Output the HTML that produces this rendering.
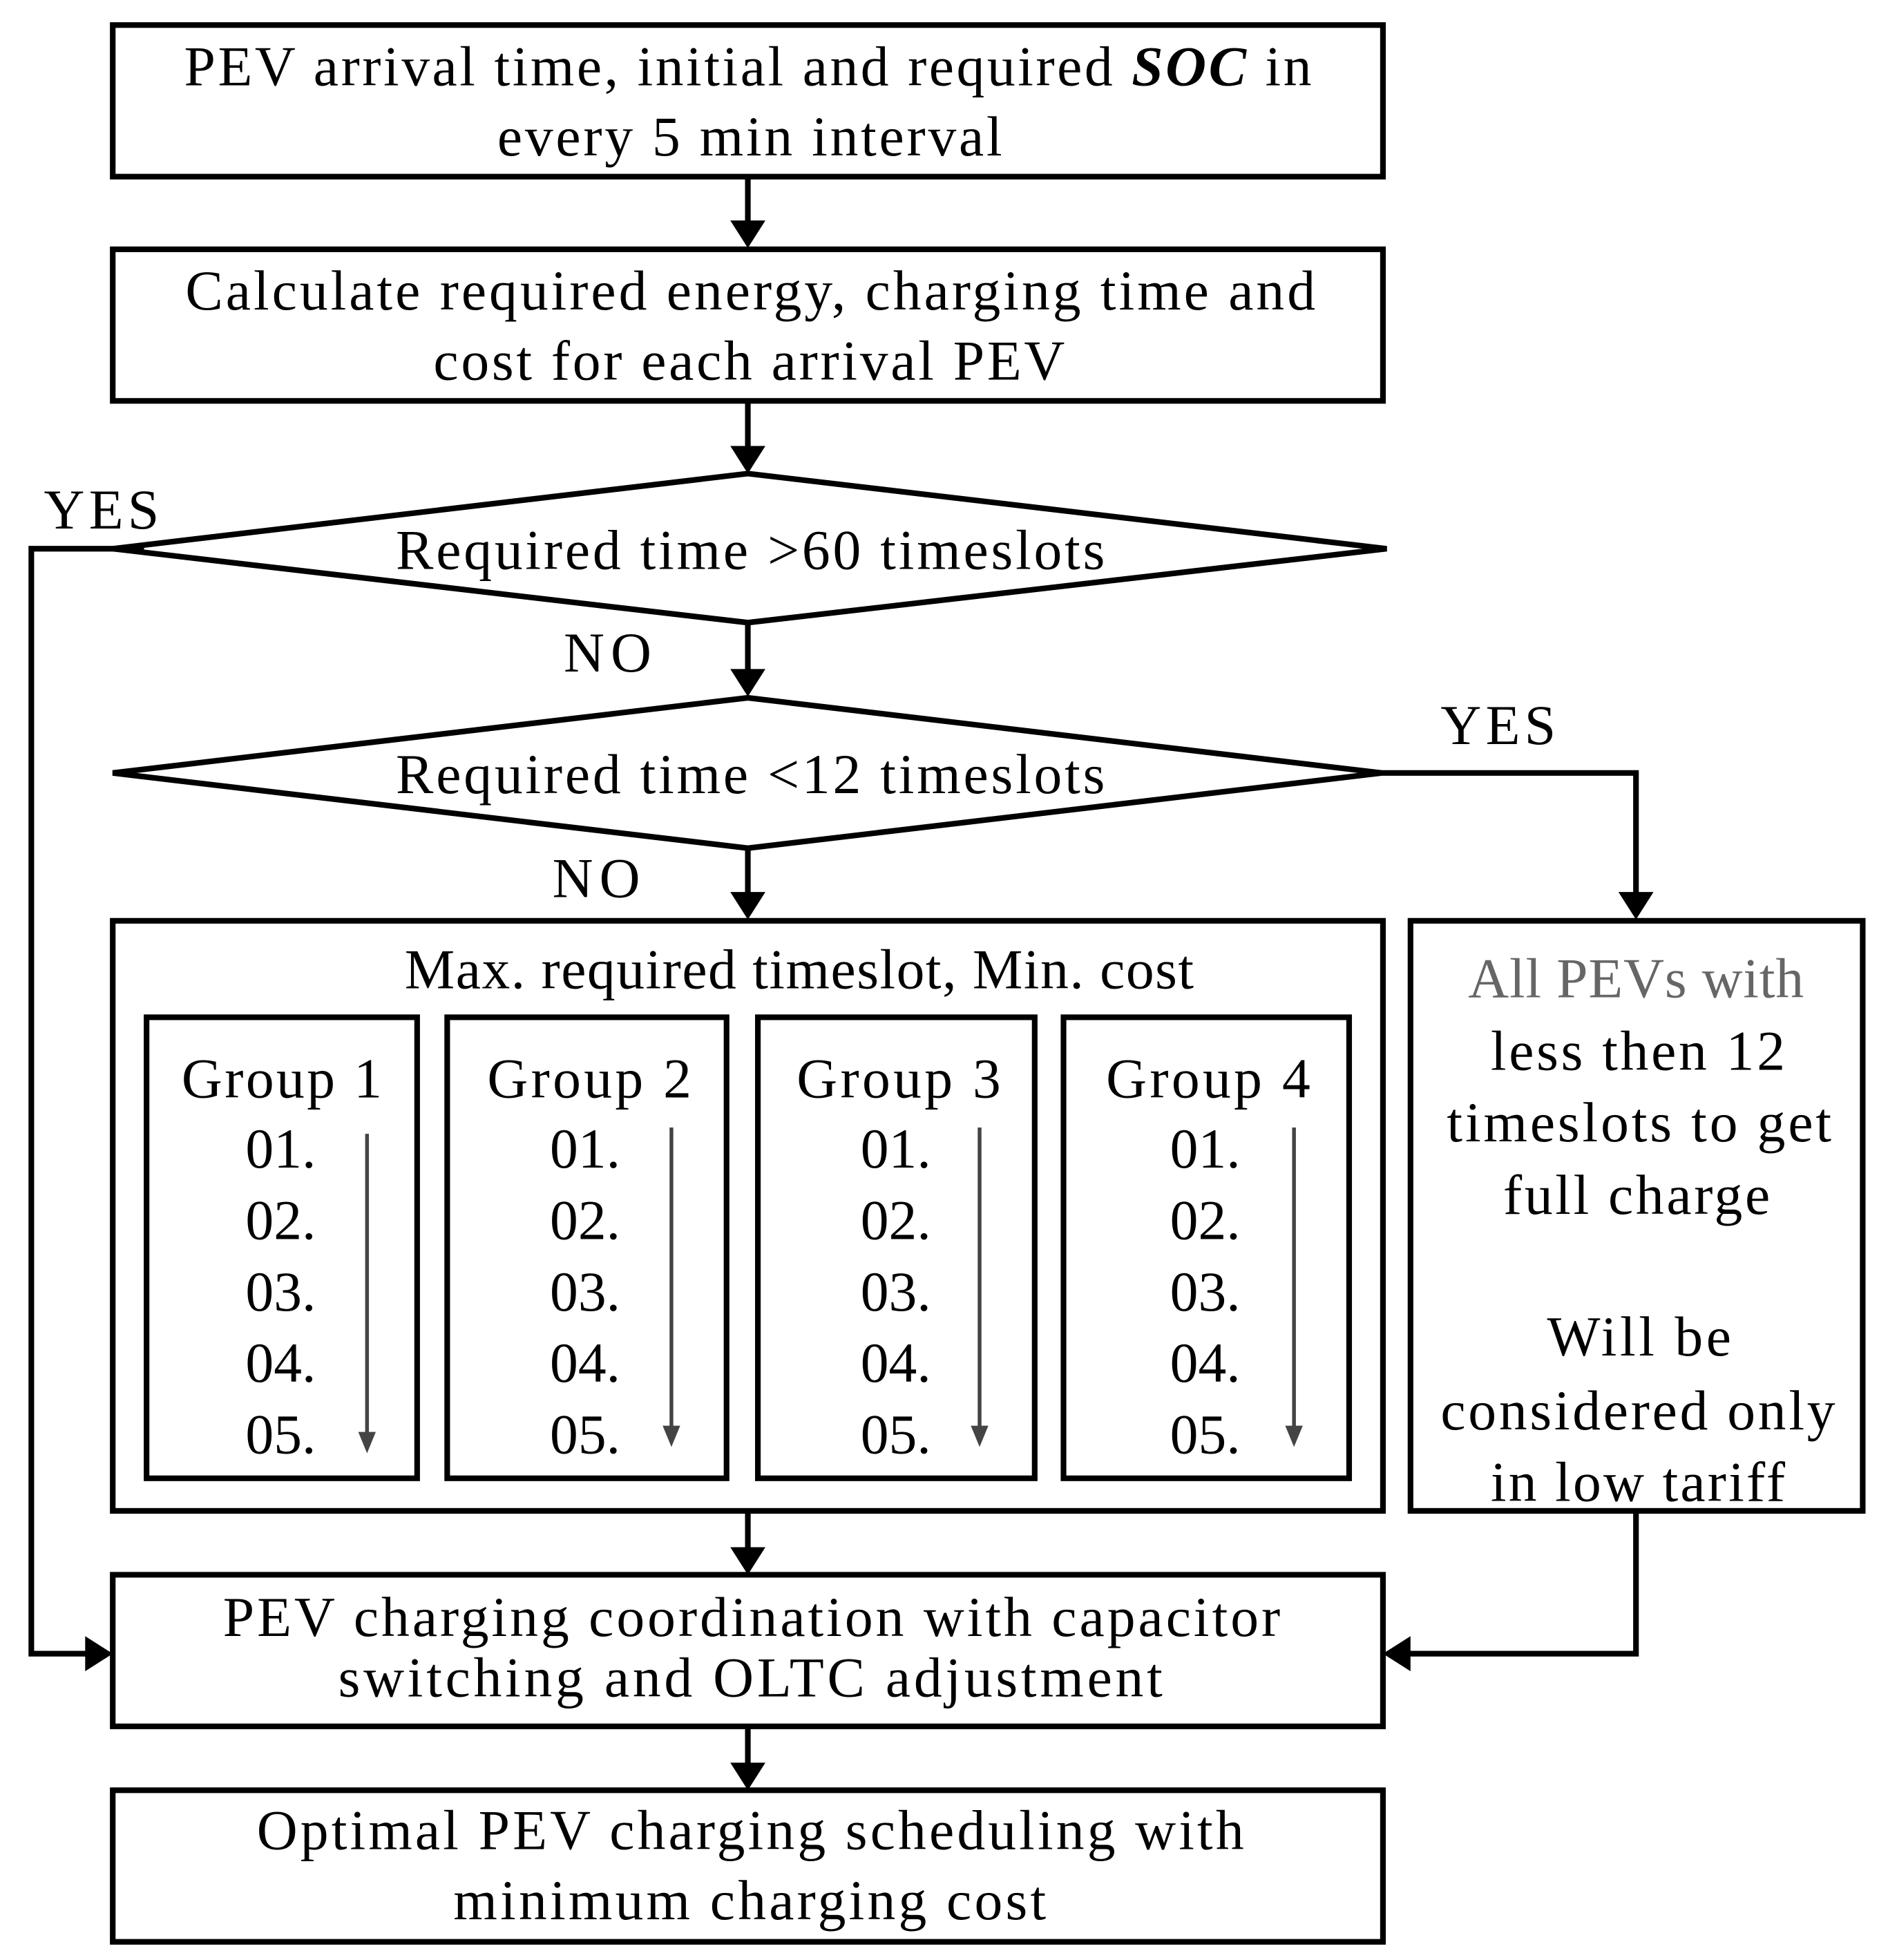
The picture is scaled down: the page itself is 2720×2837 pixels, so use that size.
<!DOCTYPE html>
<html><head><style>html,body{margin:0;padding:0;background:#fff}svg{display:block}</style></head>
<body>
<svg width="2720" height="2837" viewBox="0 0 1500 1564.5" preserveAspectRatio="none" xmlns="http://www.w3.org/2000/svg">
<g fill="none" stroke="#000" stroke-width="4.5">
<rect x="90" y="20" width="1014" height="121"/>
<rect x="90" y="199" width="1014" height="121"/>
<polygon points="90,438 597,378 1107,438 597,497"/>
<polygon points="90,617 597,557 1103,617 597,677"/>
<rect x="90" y="735" width="1014" height="471"/>
<rect x="117" y="812" width="216" height="368"/>
<rect x="357" y="812" width="223" height="368"/>
<rect x="605" y="812" width="221" height="368"/>
<rect x="849" y="812" width="228" height="368"/>
<rect x="1126" y="735" width="361" height="471"/>
<rect x="90" y="1257" width="1014" height="121"/>
<rect x="90" y="1429" width="1014" height="121"/>
<polyline points="115,438 25,438 25,1320 70,1320"/>
<polyline points="1103,617 1306,617 1306,714"/>
<polyline points="1306,1206 1306,1320 1124,1320"/>
<line x1="597" y1="141" x2="597" y2="178"/>
<line x1="597" y1="320" x2="597" y2="358"/>
<line x1="597" y1="497" x2="597" y2="536"/>
<line x1="597" y1="677" x2="597" y2="714"/>
<line x1="597" y1="1206" x2="597" y2="1237"/>
<line x1="597" y1="1378" x2="597" y2="1409"/>
</g>
<g fill="#000">
<path d="M583,176 L611,176 L597,198z"/>
<path d="M583,356 L611,356 L597,378z"/>
<path d="M583,534 L611,534 L597,556z"/>
<path d="M583,712 L611,712 L597,734z"/>
<path d="M583,1235 L611,1235 L597,1257z"/>
<path d="M583,1407 L611,1407 L597,1429z"/>
<path d="M1292,712 L1320,712 L1306,734z"/>
<path d="M68,1306 L68,1334 L90,1320z"/>
<path d="M1126,1306 L1126,1334 L1104,1320z"/>
</g>
<g stroke="#444" stroke-width="3">
<line x1="293" y1="905" x2="293" y2="1145"/><line x1="536" y1="900" x2="536" y2="1140"/>
<line x1="782" y1="900" x2="782" y2="1140"/><line x1="1033" y1="900" x2="1033" y2="1140"/>
</g>
<g fill="#444">
<path d="M286,1143 L300,1143 L293,1160z"/><path d="M529,1138 L543,1138 L536,1155z"/>
<path d="M775,1138 L789,1138 L782,1155z"/><path d="M1026,1138 L1040,1138 L1033,1155z"/>
</g>
<g font-family="Liberation Serif, serif" font-size="45" fill="#000">
<text x="147" y="68" textLength="900" lengthAdjust="spacing">PEV arrival time, initial and required <tspan font-weight="bold" font-style="italic">SOC</tspan> in</text>
<text x="397" y="124" textLength="403" lengthAdjust="spacing">every 5 min interval</text>
<text x="148" y="247" textLength="902" lengthAdjust="spacing">Calculate required energy, charging time and</text>
<text x="346" y="303" textLength="504" lengthAdjust="spacing">cost for each arrival PEV</text>
<text x="316" y="454" textLength="566" lengthAdjust="spacing">Required time &gt;60 timeslots</text>
<text x="316" y="633" textLength="566" lengthAdjust="spacing">Required time &lt;12 timeslots</text>
<text x="35" y="422" textLength="92" lengthAdjust="spacing">YES</text>
<text x="450" y="536" textLength="70" lengthAdjust="spacing">NO</text>
<text x="1150" y="594" textLength="92" lengthAdjust="spacing">YES</text>
<text x="441" y="716" textLength="70" lengthAdjust="spacing">NO</text>
<text x="323" y="789" textLength="630" lengthAdjust="spacing">Max. required timeslot, Min. cost</text>
<text x="145" y="876" textLength="160" lengthAdjust="spacing">Group 1</text>
<text x="389" y="876" textLength="163" lengthAdjust="spacing">Group 2</text>
<text x="636" y="876" textLength="163" lengthAdjust="spacing">Group 3</text>
<text x="883" y="876" textLength="163" lengthAdjust="spacing">Group 4</text>
<g>
<text x="196" y="932">01.</text><text x="196" y="989">02.</text><text x="196" y="1046">03.</text><text x="196" y="1103">04.</text><text x="196" y="1160">05.</text>
<text x="439" y="932">01.</text><text x="439" y="989">02.</text><text x="439" y="1046">03.</text><text x="439" y="1103">04.</text><text x="439" y="1160">05.</text>
<text x="687" y="932">01.</text><text x="687" y="989">02.</text><text x="687" y="1046">03.</text><text x="687" y="1103">04.</text><text x="687" y="1160">05.</text>
<text x="934" y="932">01.</text><text x="934" y="989">02.</text><text x="934" y="1046">03.</text><text x="934" y="1103">04.</text><text x="934" y="1160">05.</text>
</g>
<text x="1172" y="796" fill="#666" textLength="268" lengthAdjust="spacing">All PEVs with</text>
<text x="1190" y="854" textLength="235" lengthAdjust="spacing">less then 12</text>
<text x="1155" y="911" textLength="307" lengthAdjust="spacing">timeslots to get</text>
<text x="1200" y="969" textLength="213" lengthAdjust="spacing">full charge</text>
<text x="1235" y="1082" textLength="147" lengthAdjust="spacing">Will be</text>
<text x="1150" y="1141" textLength="315" lengthAdjust="spacing">considered only</text>
<text x="1190" y="1198" textLength="235" lengthAdjust="spacing">in low tariff</text>
<text x="178" y="1306" textLength="844" lengthAdjust="spacing">PEV charging coordination with capacitor</text>
<text x="270" y="1354" textLength="658" lengthAdjust="spacing">switching and OLTC adjustment</text>
<text x="205" y="1476" textLength="788" lengthAdjust="spacing">Optimal PEV charging scheduling with</text>
<text x="362" y="1532" textLength="473" lengthAdjust="spacing">minimum charging cost</text>
</g>
</svg>
</body></html>
